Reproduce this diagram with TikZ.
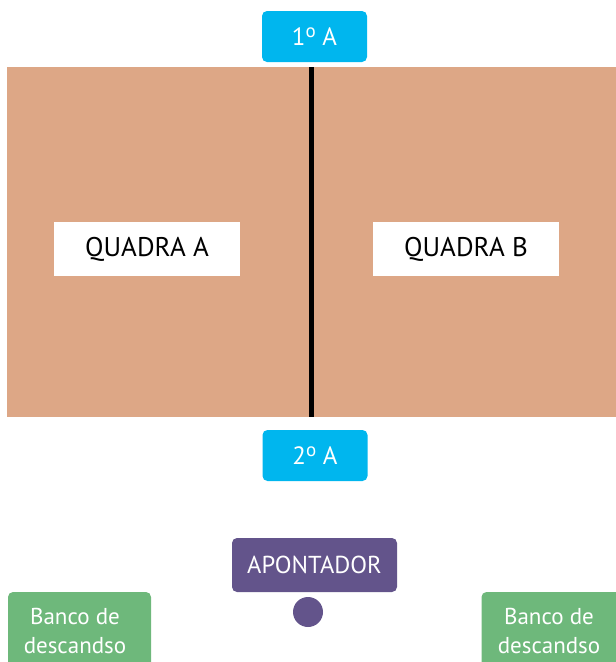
\documentclass[tikz,border=0pt]{standalone}
\usepackage{fontspec}
\setmainfont{PT Sans}
\definecolor{court}{HTML}{DDA786}
\definecolor{cyanbox}{HTML}{00B6EE}
\definecolor{purplebox}{HTML}{63548B}
\definecolor{greenbox}{HTML}{6EB87B}
\newcommand{\ordo}{\raisebox{8pt}{\fontsize{19}{19}\selectfont o}}
\tikzset{
  team/.style={fill=cyanbox, rounded corners=5pt, text=white, minimum width=105pt, minimum height=51pt, inner sep=0pt, font=\fontsize{25}{30}\selectfont},
  label/.style={fill=white, minimum width=186pt, minimum height=54pt, inner sep=0pt, text=black, font=\fontsize{27}{32}\selectfont},
  scorer/.style={fill=purplebox, rounded corners=5pt, text=white, minimum width=165pt, minimum height=54pt, inner sep=0pt, font=\fontsize{24.5}{29}\selectfont},
  benchbox/.style={fill=greenbox, rounded corners=5pt, minimum width=143pt, minimum height=77pt, inner sep=0pt},
  benchtext/.style={text=white, inner sep=0pt, align=center, font=\fontsize{23}{29}\selectfont},
  dot/.style={circle, fill=purplebox, minimum size=30pt, inner sep=0pt},
  netline/.style={line width=5pt, black}
}
\begin{document}
\begin{tikzpicture}[x=1pt, y=-1pt]
\useasboundingbox (0,0) rectangle (616,662);
\fill[court] (7,67) rectangle (616,417);
\coordinate (nettop) at (311.5,67);
\coordinate (netbot) at (311.5,417);
\draw[netline] (nettop) -- (netbot);
\node[label] (qa) at (147,249) {QUADRA A};
\node[label] (qb) at (466,249) {QUADRA B};
\node[team] (t1) at (314.5,36.5) {1\ordo\ A};
\node[team] (t2) at (315,455.5) {2\ordo\ A};
\node[scorer] (ap) at (314.5,565) {APONTADOR};
\node[dot] (pt) at (308,612) {};
\node[benchbox] (b1) at (79.5,630.5) {};
\node[benchtext] (b1t) at (75,630.5) {Banco de\\descandso};
\node[benchbox] (b2) at (553,630.5) {};
\node[benchtext] (b2t) at (549,630.5) {Banco de\\descandso};
\end{tikzpicture}
\end{document}
